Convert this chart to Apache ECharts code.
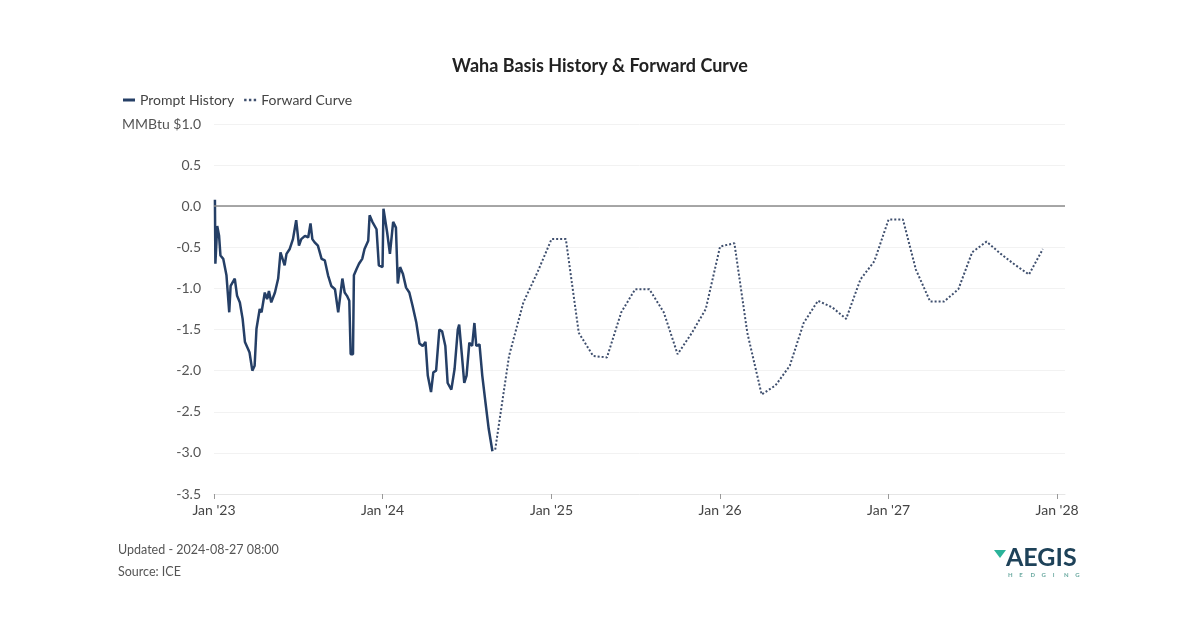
<!DOCTYPE html>
<html>
<head>
<meta charset="utf-8">
<script src="https://cdn.jsdelivr.net/npm/echarts@6/dist/echarts.min.js"></script>
<style>
  html, body { margin: 0; padding: 0; background: #fff; }
  #chart { width: 1200px; height: 630px; }
</style>
</head>
<body>
<div id="chart"></div>
<script>
// prompt history (daily settles, sampled)
const historyDates = [
  "2023-01-03", "2023-01-04", "2023-01-08", "2023-01-12", "2023-01-15", "2023-01-21", "2023-01-28",
  "2023-02-03", "2023-02-06", "2023-02-15", "2023-02-20", "2023-02-26", "2023-03-04", "2023-03-09",
  "2023-03-16", "2023-03-19", "2023-03-25", "2023-03-30", "2023-04-03", "2023-04-10", "2023-04-14",
  "2023-04-21", "2023-04-26", "2023-04-30", "2023-05-05", "2023-05-13", "2023-05-20", "2023-05-25",
  "2023-05-29", "2023-06-03", "2023-06-07", "2023-06-14", "2023-06-21", "2023-06-28", "2023-07-04",
  "2023-07-09", "2023-07-17", "2023-07-24", "2023-07-29", "2023-08-02", "2023-08-07", "2023-08-14",
  "2023-08-22", "2023-08-29", "2023-09-05", "2023-09-12", "2023-09-20", "2023-09-27", "2023-09-30",
  "2023-10-06", "2023-10-11", "2023-10-16", "2023-10-21", "2023-10-24", "2023-10-29", "2023-10-31",
  "2023-11-06", "2023-11-11", "2023-11-18", "2023-11-23", "2023-12-01", "2023-12-04", "2023-12-10",
  "2023-12-19", "2023-12-24", "2024-01-01", "2024-01-03", "2024-01-07", "2024-01-11", "2024-01-17",
  "2024-01-24", "2024-01-30", "2024-02-03", "2024-02-08", "2024-02-14", "2024-02-21", "2024-02-28",
  "2024-03-06", "2024-03-14", "2024-03-21", "2024-03-28", "2024-04-03", "2024-04-08", "2024-04-15",
  "2024-04-20", "2024-04-26", "2024-05-03", "2024-05-09", "2024-05-16", "2024-05-21", "2024-05-29",
  "2024-06-05", "2024-06-12", "2024-06-15", "2024-06-21", "2024-06-26", "2024-07-01", "2024-07-07",
  "2024-07-13", "2024-07-18", "2024-07-22", "2024-07-29", "2024-08-04", "2024-08-11", "2024-08-18",
  "2024-08-26"
];
const historyValues = [
  0.08, -0.70, -0.24, -0.36, -0.60, -0.64, -0.84,
  -1.29, -0.97, -0.88, -1.09, -1.17, -1.37, -1.65,
  -1.74, -1.78, -2.00, -1.94, -1.49, -1.25, -1.29,
  -1.05, -1.13, -1.03, -1.17, -1.05, -0.88, -0.56,
  -0.58, -0.72, -0.58, -0.52, -0.40, -0.17, -0.48,
  -0.40, -0.36, -0.38, -0.21, -0.40, -0.44, -0.48,
  -0.64, -0.66, -0.84, -0.97, -1.01, -1.29, -1.31,
  -0.88, -1.05, -1.09, -1.15, -1.80, -1.80, -0.84,
  -0.76, -0.70, -0.64, -0.52, -0.42, -0.11, -0.19,
  -0.28, -0.72, -0.74, -0.03, -0.01, -0.32, -0.58,
  -0.19, -0.26, -0.94, -0.74, -0.82, -0.99, -1.05,
  -1.21, -1.41, -1.67, -1.70, -1.65, -2.06, -2.26,
  -2.02, -2.00, -1.50, -1.52, -1.70, -2.15, -2.23,
  -1.98, -1.50, -1.44, -1.82, -2.15, -2.06, -1.66,
  -1.70, -1.42, -1.70, -1.68, -2.06, -2.39, -2.71,
  -2.98
];

// forward curve, monthly contracts
const forwardMonths = [
  "2024-09-01", "2024-10-01", "2024-11-01", "2024-12-01",
  "2025-01-01", "2025-02-01", "2025-03-01", "2025-04-01", "2025-05-01", "2025-06-01",
  "2025-07-01", "2025-08-01", "2025-09-01", "2025-10-01", "2025-11-01", "2025-12-01",
  "2026-01-01", "2026-02-01", "2026-03-01", "2026-04-01", "2026-05-01", "2026-06-01",
  "2026-07-01", "2026-08-01", "2026-09-01", "2026-10-01", "2026-11-01", "2026-12-01",
  "2027-01-01", "2027-02-01", "2027-03-01", "2027-04-01", "2027-05-01", "2027-06-01",
  "2027-07-01", "2027-08-01", "2027-09-01", "2027-10-01", "2027-11-01", "2027-12-01"
];
const forwardValues = [
  -2.96, -1.82, -1.17, -0.81,
  -0.40, -0.40, -1.54, -1.82, -1.84, -1.29,
  -1.01, -1.01, -1.29, -1.80, -1.54, -1.25,
  -0.49, -0.45, -1.54, -2.29, -2.18, -1.94,
  -1.42, -1.15, -1.23, -1.37, -0.89, -0.67,
  -0.16, -0.16, -0.77, -1.16, -1.16, -1.01,
  -0.56, -0.43, -0.58, -0.71, -0.83, -0.52
];

const yearTicks = [2023, 2024, 2025, 2026, 2027, 2028];
const yearLabels = ["Jan '23", "Jan '24", "Jan '25", "Jan '26", "Jan '27", "Jan '28"];

const chart = echarts.init(document.getElementById("chart"));
const FONT = "Lato, 'Noto Sans', sans-serif";
const NAVY = "#253f66";

// logo sub-line letters, spread out like the brand mark
const hedging = "HEDGING".split("").map((ch, i) => ({
  type: "text",
  left: 1008 + i * 11.2,
  top: 572,
  style: { text: ch, fill: "#6aa9a0", font: "bold 6px " + FONT },
}));

chart.setOption({
  animation: false,
  textStyle: { fontFamily: FONT },
  title: {
    text: "Waha Basis History & Forward Curve",
    left: "center",
    top: 52,
    textStyle: { fontSize: 18, fontWeight: "bold", color: "#222", fontFamily: FONT },
  },
  legend: {
    left: 118,
    top: 88,
    itemWidth: 12,
    itemHeight: 3,
    itemGap: 10,
    textStyle: { fontSize: 14, color: "#444", fontFamily: FONT },
    data: [
      { name: "Prompt History", icon: "rect" },
      { name: "Forward Curve", icon: "path://M0,0h2v2h-2z M4,0h2v2h-2z M8,0h2v2h-2z" },
    ],
  },
  grid: {
    left: 214,
    right: 135,
    top: 124,
    bottom: 136,
  },
  xAxis: {
    type: "time",
    min: "2023-01-01",
    max: "2028-01-18",
    minInterval: 365 * 24 * 3600 * 1000,
    maxInterval: 366 * 24 * 3600 * 1000,
    axisLine: { show: true, onZero: false, lineStyle: { color: "#e6e6e6" } },
    axisTick: { show: true, length: 5, lineStyle: { color: "#999" } },
    splitLine: { show: false },
    axisLabel: {
      color: "#444",
      fontSize: 14,
      margin: 9,
      showMinLabel: true,
      showMaxLabel: false,
      formatter: function (val) {
        const d = new Date(val);
        const i = yearTicks.indexOf(d.getFullYear());
        return i >= 0 && d.getMonth() === 0 && d.getDate() === 1 ? yearLabels[i] : "";
      },
    },
  },
  yAxis: {
    type: "value",
    min: -3.5,
    max: 1.0,
    interval: 0.5,
    axisLine: { show: false },
    axisTick: { show: false },
    splitLine: { show: true, lineStyle: { color: "#f2f2f2", width: 1 } },
    axisLabel: {
      color: "#555",
      fontSize: 14,
      margin: 13,
      formatter: function (v) {
        return v === 1 ? "MMBtu $1.0" : v.toFixed(1);
      },
    },
  },
  series: [
    {
      name: "Prompt History",
      type: "line",
      data: historyDates.map((d, i) => [d, historyValues[i]]),
      symbol: "none",
      lineStyle: { color: NAVY, width: 2.5 },
      itemStyle: { color: NAVY },
      z: 3,
      markLine: {
        silent: true,
        symbol: "none",
        label: { show: false },
        lineStyle: { color: "#8a8a8a", width: 1.5, type: "solid" },
        data: [{ yAxis: 0 }],
      },
    },
    {
      name: "Forward Curve",
      type: "line",
      data: forwardMonths.map((d, i) => [d, forwardValues[i]]),
      symbol: "none",
      lineStyle: { color: "#3f4f6e", width: 2, type: "dotted" },
      itemStyle: { color: "#3f4f6e" },
      z: 2,
    },
  ],
  graphic: [
    {
      type: "text",
      left: 118,
      top: 543,
      style: { text: "Updated - 2024-08-27 08:00", fill: "#555", font: "12.5px " + FONT },
    },
    {
      type: "text",
      left: 118,
      top: 565,
      style: { text: "Source: ICE", fill: "#555", font: "12.5px " + FONT },
    },
    {
      type: "polygon",
      shape: { points: [[994, 550], [1006, 550], [1000, 558]] },
      style: { fill: "#2bb39a" },
    },
    {
      type: "text",
      left: 1006,
      top: 545,
      style: { text: "AEGIS", fill: "#1e4259", font: "bold 25px " + FONT },
    },
  ].concat(hedging),
});
</script>
</body>
</html>
